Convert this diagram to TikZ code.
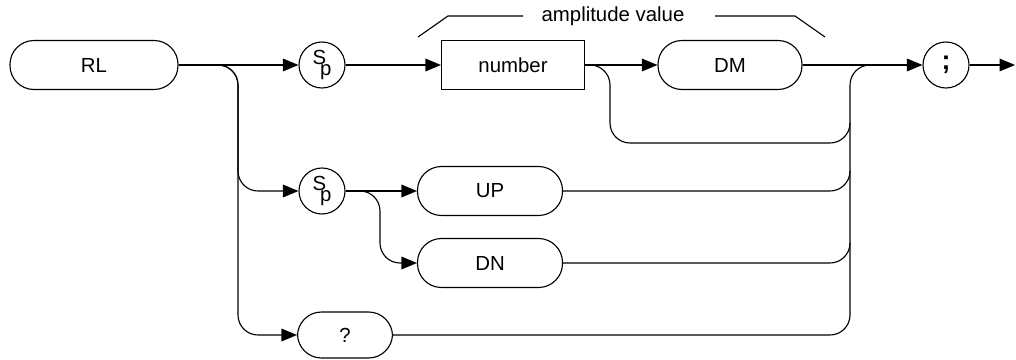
\documentclass[tikz,border=0pt]{standalone}
\usepackage{fontspec}
\setmainfont{Liberation Sans}
\usepackage{tikz}
\usetikzlibrary{arrows.meta,positioning}

\newcommand{\spsym}{\raisebox{0.35ex}{S}\kern-0.3em\raisebox{-0.75ex}{p}}

\begin{document}
\begin{tikzpicture}[
      x=0.025cm, y=-0.025cm,
      pill/.style={rectangle, rounded corners=0.6cm, draw=black, thick,
                   align=center, inner sep=2pt, minimum height=1.225cm,
                   font=\fontsize{14.5}{17}\selectfont},
      keybox/.style={rectangle, draw=black, thick, align=center,
                     minimum height=1.225cm, minimum width=3.575cm,
                     font=\fontsize{14.5}{17}\selectfont},
      sym/.style={circle, draw=black, thick, minimum size=1.15cm, inner sep=0pt,
                  font=\fontsize{14.5}{17}\selectfont},
      rail/.style={thick, rounded corners=0.5cm},
      arr/.style={thick, rounded corners=0.5cm, -{Triangle[length=11pt, width=9pt]}}
    ]
    \useasboundingbox (0,0) rectangle (1016,360);
    % top row
    \node[pill, minimum width=4.2cm] (rl) at (94,65) {RL};
    \node[sym] (sp1) at (322,65) {\spsym};
    \node[keybox] (num) at (513,65) {number};
    \node[pill, minimum width=3.6cm] (dm) at (730,65) {DM};
    \node[sym] (semi) at (946,65) {\fontsize{19}{20}\selectfont\textbf{;}};
    \coordinate (out) at (1015,65);
    % lower rows
    \node[sym] (sp2) at (322,191) {\spsym};
    \node[pill, minimum width=3.625cm] (up) at (490,191) {UP};
    \node[pill, minimum width=3.625cm] (dn) at (490,263) {DN};
    \node[pill, minimum width=2.375cm, minimum height=1.15cm] (query) at (345,335) {?};
    % amplitude value bracket
    \node[font=\fontsize{14.5}{17}\selectfont] (amp) at (613,16) {amplitude value};
    \draw[thick] (418,37) -- (448,16) -- (523,16);
    \draw[thick] (715,16) -- (795,16) -- (825,37);
    % main line
    \draw[arr] (rl) -- (sp1);
    \draw[arr] (sp1) -- (num);
    \draw[arr] (num) -- (dm);
    \draw[arr] (dm) -- (semi);
    \draw[arr] (semi) -- (out);
    % branches
    \draw[arr] (205,65) -| (238,191) -- (sp2.west);
    \draw[arr] (205,65) -| (238,335) -- (query.west);
    \draw[arr] (sp2) -- (up);
    \draw[arr] (350,191) -| (380,263) -- (dn.west);
    \draw[rail] (590,65) -| (610,143) -- (850,143) -- (850,123);
    % collector
    \draw[rail] (up.east) -- (850,191) -- (850,171);
    \draw[rail] (dn.east) -- (850,263) -- (850,243);
    \draw[rail] (query.east) -- (850,335) -- (850,65) -- (885,65);
\end{tikzpicture}
\end{document}
